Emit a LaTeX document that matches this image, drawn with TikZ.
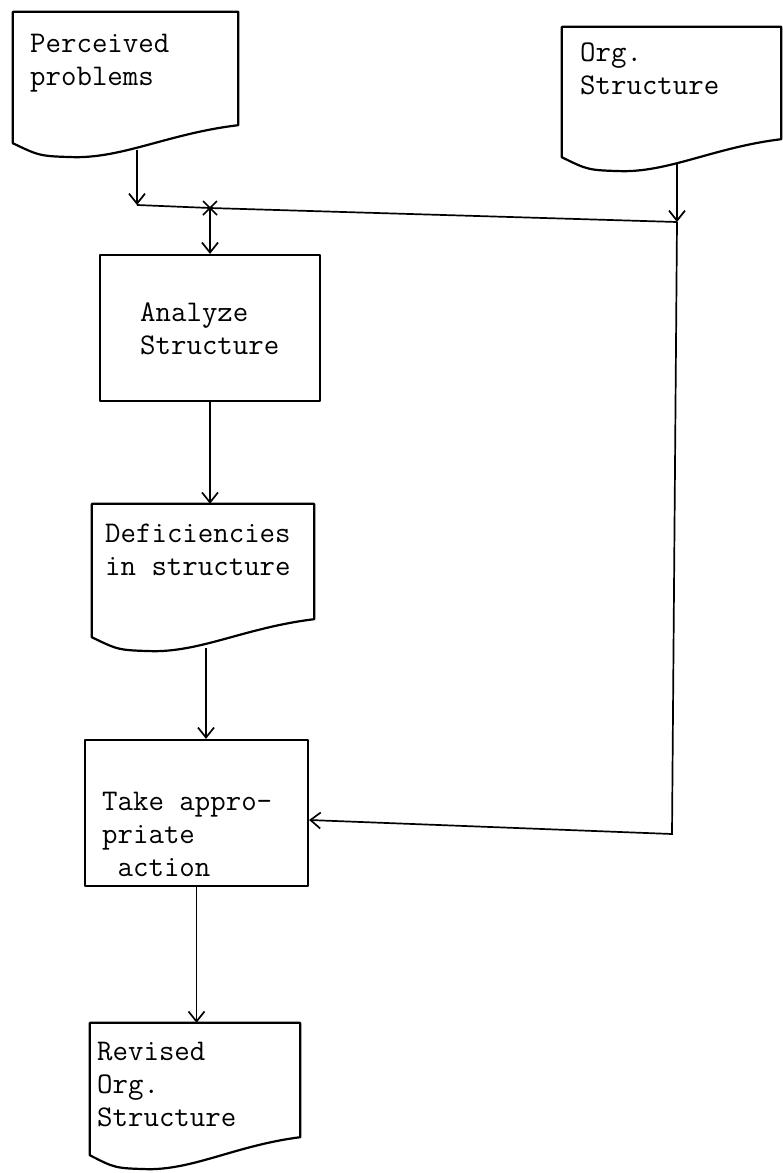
\documentclass[tikz,border=0pt]{standalone}
\usepackage{tikz}
\usetikzlibrary{calc}
\usetikzlibrary{arrows.meta}

% outline of a document box with a wavy bottom
\newcommand{\docframe}[1]{%
  \draw[frame] (#1.south west) -- (#1.north west) -- (#1.north east) -- ($(#1.south east)+(0,-18)$)
    .. controls ($(#1.south east)!0.3!(#1.south west)+(0,-10)$) and ($(#1.south west)!0.5!(#1.south east)+(0,14)$) .. ($(#1.south west)!0.28!(#1.south east)+(0,14)$)
    .. controls ($(#1.south west)!0.12!(#1.south east)+(0,13)$) .. (#1.south west) -- cycle;}

\begin{document}
\begin{tikzpicture}[x=1pt, y=-1pt,
    frame/.style={line width=2.2pt, line join=round},
    procbox/.style={draw, frame, rectangle, inner sep=0pt},
    docbox/.style={rectangle, inner sep=0pt},
    txt/.style={font=\fontsize{30}{33}\selectfont\ttfamily, align=left, inner sep=0pt, anchor=north west},
    flow/.style={line width=1.7pt, -{Straight Barb[length=10pt, width=16pt]}},
    link/.style={line width=1.7pt}]
            \useasboundingbox (0,0) rectangle (783,1173);

            \node[docbox, minimum width=225pt, minimum height=131pt] (PP) at (125.5,77.5) {};
            \node[docbox, minimum width=219pt, minimum height=130pt] (OS) at (671.5,92) {};
            \node[procbox, minimum width=220pt, minimum height=146pt] (AS) at (210,328) {};
            \node[docbox, minimum width=222pt, minimum height=133pt] (DS) at (203,570.5) {};
            \node[procbox, minimum width=223pt, minimum height=146pt] (TA) at (196.5,813) {};
            \node[docbox, minimum width=210pt, minimum height=132pt] (RS) at (195,1089) {};

            \docframe{PP}
            \docframe{OS}
            \docframe{DS}
            \docframe{RS}

            \node[txt] (PPt) at (30,34) {Perceived\\problems};
            \node[txt] (OSt) at (580,43) {Org.\\Structure};
            \node[txt] (ASt) at (140,303) {Analyze\\Structure};
            \node[txt] (DSt) at (105,524) {Deficiencies\\in structure};
            \node[txt] (TAt) at (102,792) {Take appro-\\priate\\~action};
            \node[txt] (RSt) at (97,1042) {Revised\\Org.\\Structure};

            \coordinate (J1) at (137,205);
            \coordinate (JX) at (210,208);
            \coordinate (J2) at (677,222);
            \coordinate (C3) at (672,834);
            \coordinate (PPout) at (137,150);
            \coordinate (OSout) at (677,164);
            \coordinate (DSout) at (206,648);

            \draw[flow] (PPout) -- (J1);
            \draw[link] (J1) -- (JX) -- (J2);
            \draw[flow] (OSout) -- (J2);
            \draw[link] ($(JX)+(-7,-7)$) -- ($(JX)+(7,7)$) ($(JX)+(-7,7)$) -- ($(JX)+(7,-7)$);
            \draw[flow] (JX) -- (AS.north);
            \draw[flow] (J2) -- (C3) -- ($(TA.east)+(0,7)$);
            \draw[flow] (AS.south) -- (AS.south |- DS.north);
            \draw[flow] (DSout) -- (DSout |- TA.north);
            \draw[flow] (TA.south) -- (TA.south |- RS.north);
        \end{tikzpicture}
\end{document}
